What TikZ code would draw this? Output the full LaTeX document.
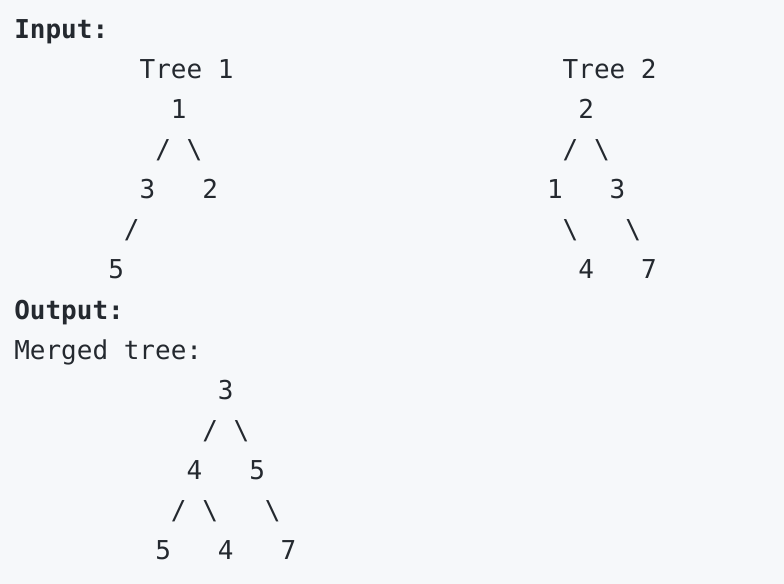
\documentclass[tikz,border=0pt]{standalone}
\usepackage{fontspec}
\setmonofont{DejaVu Sans Mono}
\definecolor{codebg}{HTML}{F6F8FA}
\definecolor{codeink}{HTML}{24292F}
\newcommand{\colw}{15.67}

\begin{document}
\begin{tikzpicture}[
  x=0.75pt, y=-0.75pt,
  code/.style={anchor=base west, inner sep=0pt, text=codeink,
    font=\ttfamily\fontsize{19.5}{24}\selectfont},
  heading/.style={code, font=\ttfamily\bfseries\fontsize{19.5}{24}\selectfont},
]
\fill[codebg] (0,0) rectangle (784,584);

% ---- input: two trees ----
\node[heading] (inhead) at (14,39) {Input:};
\node[code] (t1title) at ({14+8*\colw},79) {Tree 1};
\node[code] (t2title) at ({14+35*\colw},79) {Tree 2};
% tree 1
\node[code] (t1root) at ({14+10*\colw},119) {1};
\node[code] (t1el) at ({14+9*\colw},159) {/};
\node[code] (t1er) at ({14+11*\colw},159) {\textbackslash};
\node[code] (t1l) at ({14+8*\colw},199) {3};
\node[code] (t1r) at ({14+12*\colw},199) {2};
\node[code] (t1ell) at ({14+7*\colw},239) {/};
\node[code] (t1ll) at ({14+6*\colw},279) {5};
% tree 2
\node[code] (t2root) at ({14+36*\colw},119) {2};
\node[code] (t2el) at ({14+35*\colw},159) {/};
\node[code] (t2er) at ({14+37*\colw},159) {\textbackslash};
\node[code] (t2l) at ({14+34*\colw},199) {1};
\node[code] (t2r) at ({14+38*\colw},199) {3};
\node[code] (t2elr) at ({14+35*\colw},239) {\textbackslash};
\node[code] (t2err) at ({14+39*\colw},239) {\textbackslash};
\node[code] (t2lr) at ({14+36*\colw},279) {4};
\node[code] (t2rr) at ({14+40*\colw},279) {7};

% ---- output: merged tree ----
\node[heading] (outhead) at (14,319) {Output:};
\node[code] (mtitle) at (14,359) {Merged tree:};
\node[code] (mroot) at ({14+13*\colw},399) {3};
\node[code] (mel) at ({14+12*\colw},439) {/};
\node[code] (mer) at ({14+14*\colw},439) {\textbackslash};
\node[code] (ml) at ({14+11*\colw},479) {4};
\node[code] (mr) at ({14+15*\colw},479) {5};
\node[code] (mell) at ({14+10*\colw},519) {/};
\node[code] (melr) at ({14+12*\colw},519) {\textbackslash};
\node[code] (merr) at ({14+16*\colw},519) {\textbackslash};
\node[code] (mll) at ({14+9*\colw},559) {5};
\node[code] (mlr) at ({14+13*\colw},559) {4};
\node[code] (mrr) at ({14+17*\colw},559) {7};

\end{tikzpicture}
\end{document}
